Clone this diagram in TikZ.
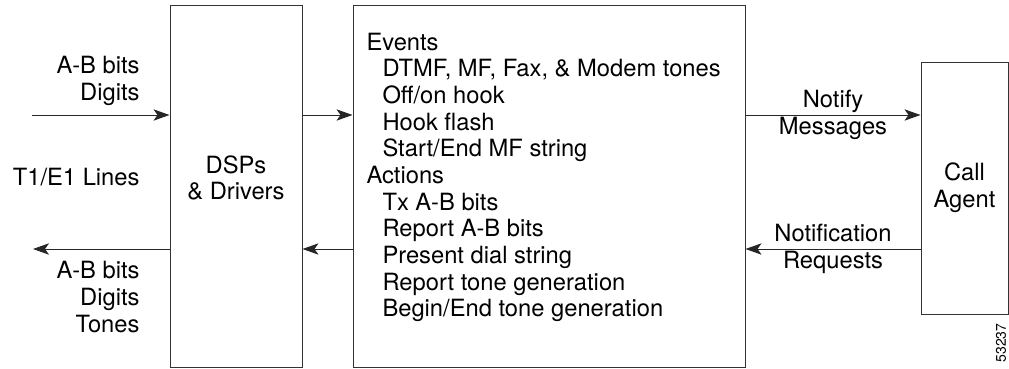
\documentclass[tikz,border=0pt]{standalone}
\usepackage{fontspec}
\setmainfont{TeX Gyre Heros}
\usetikzlibrary{arrows.meta, positioning}

\begin{document}
\begin{tikzpicture}[x=0.75pt, y=-0.75pt, >={Stealth[length=12pt, width=8.5pt, inset=3pt]}, line width=0.75pt,
    box/.style={draw=black!80, inner sep=0pt},
    conn/.style={->, draw=black!85},
    lbl/.style={inner sep=0pt, font=\fontsize{17.8}{20}\selectfont}]
    \useasboundingbox (0,0) rectangle (1009,368);
    % Bloecke
    \node[box, minimum width=99pt, minimum height=271.5pt] (dsp) at (236,186) {};
    \node[box, minimum width=294pt, minimum height=271.5pt] (mid) at (549,186) {};
    \node[box, lbl, align=center, minimum width=65.25pt, minimum height=189pt] (agent) at (964.5,188) {Call\\Agent};

    % Texte
    \node[lbl, align=center] (dspText) at (236,178) {DSPs\\\& Drivers};
    \node[lbl, anchor=north west] (events) at (366,31) {
        \begin{tabular}{@{}l@{}}
            Events\\
            \hspace{12pt}DTMF, MF, Fax, \& Modem tones\\
            \hspace{12pt}Off/on hook\\
            \hspace{12pt}Hook flash\\
            \hspace{12pt}Start/End MF string\\
            Actions\\
            \hspace{12pt}Tx A-B bits\\
            \hspace{12pt}Report A-B bits\\
            \hspace{12pt}Present dial string\\
            \hspace{12pt}Report tone generation\\
            \hspace{12pt}Begin/End tone generation
        \end{tabular}
    };
    \node[lbl, anchor=east, align=right] (inBits) at (140,81) {A-B bits\\Digits};
    \node[lbl, anchor=east] (lines) at (140,177) {T1/E1 Lines};
    \node[lbl, anchor=east, align=right] (outBits) at (140,297) {A-B bits\\Digits\\Tones};
    \node[inner sep=0pt, rotate=90, font=\fontsize{10.5}{12}\selectfont] (figNum) at (1001,343) {53237};

    % Verbindungen
    \coordinate (lineIn) at (32,115);
    \coordinate (lineOut) at (33,249);
    \draw[conn] (lineIn) -- (lineIn -| dsp.west);
    \draw[conn] (dsp.west |- lineOut) -- (lineOut);
    \draw[conn] (dsp.east |- lineIn) -- (mid.west |- lineIn);
    \draw[conn] (mid.west |- lineOut) -- (dsp.east |- lineOut);
    \draw[conn] (mid.east |- lineIn) -- node[lbl, align=center] {Notify\\Messages} (agent.west |- lineIn);
    \draw[conn] (agent.west |- lineOut) -- node[lbl, align=center] {Notification\\Requests} (mid.east |- lineOut);
\end{tikzpicture}
\end{document}
